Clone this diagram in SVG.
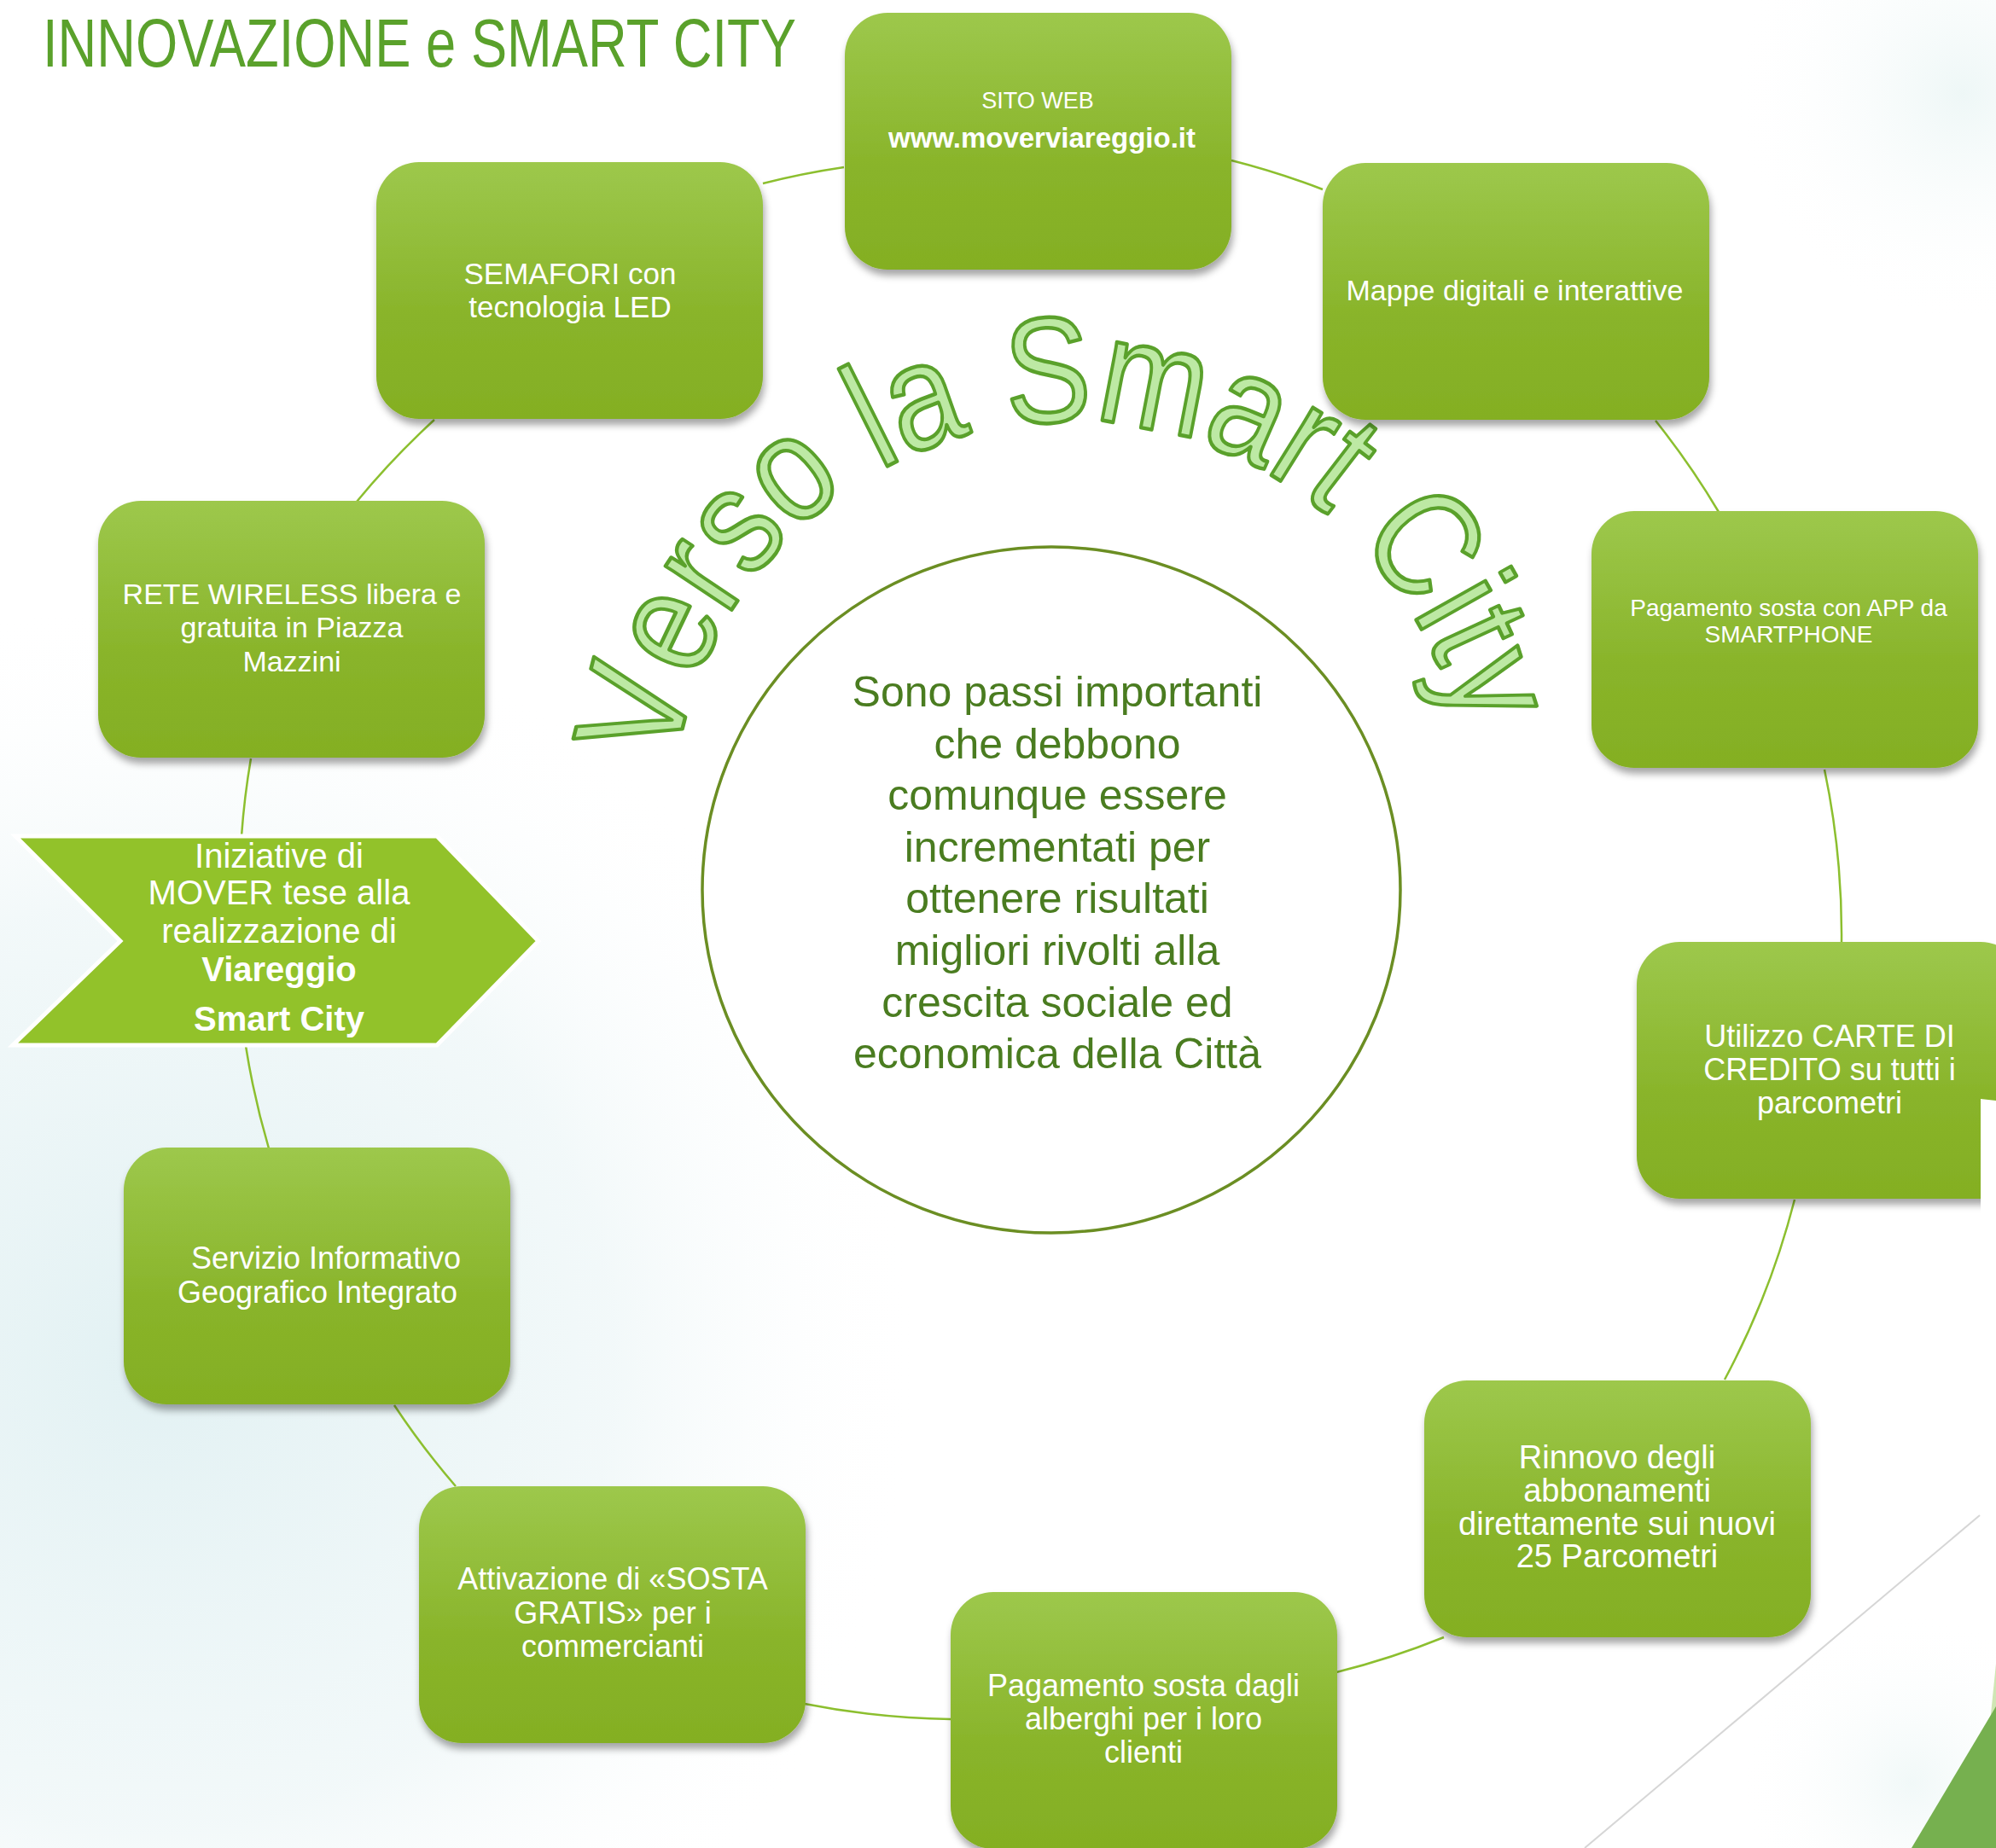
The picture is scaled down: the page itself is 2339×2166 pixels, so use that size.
<svg xmlns="http://www.w3.org/2000/svg" width="2339" height="2166" viewBox="0 0 2339 2166">
<defs>
<linearGradient id="ng" x1="0" y1="0" x2="0" y2="1">
<stop offset="0" stop-color="#9dc84c"/>
<stop offset="0.6" stop-color="#89b42a"/>
<stop offset="1" stop-color="#84af23"/>
</linearGradient>
<radialGradient id="glowL" cx="0.5" cy="0.5" r="0.5">
<stop offset="0" stop-color="#e2f1f3" stop-opacity="1"/>
<stop offset="0.6" stop-color="#eff7f8" stop-opacity="0.8"/>
<stop offset="1" stop-color="#ffffff" stop-opacity="0"/>
</radialGradient>
<radialGradient id="glowT" cx="0.5" cy="0.5" r="0.5">
<stop offset="0" stop-color="#e3f2f1" stop-opacity="1"/>
<stop offset="1" stop-color="#ffffff" stop-opacity="0"/>
</radialGradient>
<filter id="sh" x="-10%" y="-10%" width="125%" height="130%">
<feDropShadow dx="2" dy="7" stdDeviation="4" flood-color="#000" flood-opacity="0.35"/>
</filter>
</defs>
<style>
.nb{fill:url(#ng);filter:url(#sh)}
.nt{font-family:"Liberation Sans",Arial,sans-serif;fill:#ffffff;text-anchor:middle}
.conn{fill:none;stroke:#8cbf2f;stroke-width:2.5}
.arc{font-family:"Liberation Sans",Arial,sans-serif;font-size:176px;fill:#bde9a4;stroke:#5aa12b;stroke-width:4.5;stroke-linejoin:round;paint-order:normal;text-anchor:middle}
.ct{font-family:"Liberation Sans",Arial,sans-serif;font-size:50px;fill:#4a7c20;text-anchor:middle}
</style>
<rect x="0" y="0" width="2339" height="2166" fill="#ffffff"/>
<g id="background">
<circle cx="180" cy="1600" r="900" fill="url(#glowL)"/>
<circle cx="2300" cy="110" r="270" fill="url(#glowT)" opacity="0.6"/>
<circle cx="2240" cy="2090" r="200" fill="url(#glowT)" opacity="0.5"/>
</g>
<text id="title" x="50" y="78" font-family="Liberation Sans, Arial, sans-serif" font-size="80" fill="#5aa12b" textLength="883" lengthAdjust="spacingAndGlyphs">INNOVAZIONE e SMART CITY</text>
<g id="connectors">
<path class="conn" d="M894,215 A940,940 0 0 1 989,196"/>
<path class="conn" d="M1443,188 A940,940 0 0 1 1550,222"/>
<path class="conn" d="M1940,493 A940,940 0 0 1 2014,600"/>
<path class="conn" d="M2138,902 A940,940 0 0 1 2158,1104"/>
<path class="conn" d="M2103,1406 A940,940 0 0 1 2021,1617"/>
<path class="conn" d="M1692,1919 A940,940 0 0 1 1566,1960"/>
<path class="conn" d="M1114,2015 A940,940 0 0 1 943,1997"/>
<path class="conn" d="M534,1742 A940,940 0 0 1 462,1647"/>
<path class="conn" d="M315,1346 A940,940 0 0 1 288,1226"/>
<path class="conn" d="M283,980 A940,940 0 0 1 294,889"/>
<path class="conn" d="M418,588 A940,940 0 0 1 509,492"/>
</g>
<g id="center">
<ellipse cx="1232" cy="1043" rx="409" ry="402" fill="#ffffff" stroke="#6b8e23" stroke-width="3.5"/>
<text class="ct" x="1239" y="828">Sono passi importanti</text>
<text class="ct" x="1239" y="889">che debbono</text>
<text class="ct" x="1239" y="949">comunque essere</text>
<text class="ct" x="1239" y="1010">incrementati per</text>
<text class="ct" x="1239" y="1070">ottenere risultati</text>
<text class="ct" x="1239" y="1131">migliori rivolti alla</text>
<text class="ct" x="1239" y="1192">crescita sociale ed</text>
<text class="ct" x="1239" y="1252">economica della Città</text>
</g>
<g id="arch-title">
<text class="arc" transform="translate(801.2,847.5) rotate(-75.84) scale(0.857,1)">V</text>
<text class="arc" transform="translate(832.4,761.0) rotate(-64.56) scale(0.857,1)">e</text>
<text class="arc" transform="translate(865.5,702.6) rotate(-56.35) scale(0.857,1)">r</text>
<text class="arc" transform="translate(903.6,652.9) rotate(-48.66) scale(0.857,1)">s</text>
<text class="arc" transform="translate(961.1,597.8) rotate(-38.91) scale(0.857,1)">o</text>
<text class="arc" transform="translate(1045.5,543.5) rotate(-26.60) scale(0.857,1)">l</text>
<text class="arc" transform="translate(1099.4,520.6) rotate(-19.42) scale(0.857,1)">a</text>
<text class="arc" transform="translate(1230.5,494.6) rotate(-3.00) scale(0.857,1)">S</text>
<text class="arc" transform="translate(1343.0,502.3) rotate(10.84) scale(0.857,1)">m</text>
<text class="arc" transform="translate(1442.9,533.4) rotate(23.67) scale(0.857,1)">a</text>
<text class="arc" transform="translate(1502.0,564.5) rotate(31.87) scale(0.857,1)">r</text>
<text class="arc" transform="translate(1539.9,590.7) rotate(37.51) scale(0.857,1)">t</text>
<text class="arc" transform="translate(1623.1,673.0) rotate(51.87) scale(0.857,1)">C</text>
<text class="arc" transform="translate(1662.7,732.2) rotate(60.59) scale(0.857,1)">i</text>
<text class="arc" transform="translate(1679.8,765.7) rotate(65.20) scale(0.857,1)">t</text>
<text class="arc" transform="translate(1701.0,820.3) rotate(72.38) scale(0.857,1)">y</text>
</g>
<g id="node-sito">
<rect class="nb" x="990" y="15" width="453" height="301" rx="50"/>
<text class="nt" x="1216" y="127" font-size="27">SITO WEB</text>
<text class="nt" x="1221" y="173" font-size="33" font-weight="bold">www.moverviareggio.it</text>
</g>
<g id="node-semafori">
<rect class="nb" x="441" y="190" width="453" height="301" rx="50"/>
<text class="nt" x="668" y="333" font-size="35">SEMAFORI con</text>
<text class="nt" x="668" y="372" font-size="35">tecnologia LED</text>
</g>
<g id="node-mappe">
<rect class="nb" x="1550" y="191" width="453" height="301" rx="50"/>
<text class="nt" x="1775" y="352" font-size="34">Mappe digitali e interattive</text>
</g>
<g id="node-wireless">
<rect class="nb" x="115" y="587" width="453" height="301" rx="50"/>
<text class="nt" x="342" y="708" font-size="34">RETE WIRELESS libera e</text>
<text class="nt" x="342" y="747" font-size="34">gratuita in Piazza</text>
<text class="nt" x="342" y="787" font-size="34">Mazzini</text>
</g>
<g id="node-app">
<rect class="nb" x="1865" y="599" width="453" height="301" rx="50"/>
<text class="nt" x="2096" y="722" font-size="28">Pagamento sosta con APP da</text>
<text class="nt" x="2096" y="753" font-size="28">SMARTPHONE</text>
</g>
<g id="node-iniziative">
<polygon points="18,980 512,980 631,1103 512,1225 15,1225 141,1103" fill="#92c22a" stroke="#ffffff" stroke-width="5" stroke-linejoin="miter"/>
<text class="nt" x="327" y="1017" font-size="40">Iniziative di</text>
<text class="nt" x="327" y="1060" font-size="40">MOVER tese alla</text>
<text class="nt" x="327" y="1105" font-size="40">realizzazione di</text>
<text class="nt" x="327" y="1150" font-size="40" font-weight="bold">Viareggio</text>
<text class="nt" x="327" y="1208" font-size="40" font-weight="bold">Smart City</text>
</g>
<g id="node-carte">
<rect class="nb" x="1918" y="1104" width="453" height="301" rx="50"/>
<polygon points="2321,1288 2339,1290 2339,1425 2321,1425" fill="#ffffff"/>
<text class="nt" x="2144" y="1227" font-size="36">Utilizzo CARTE DI</text>
<text class="nt" x="2144" y="1266" font-size="36">CREDITO su tutti i</text>
<text class="nt" x="2144" y="1305" font-size="36">parcometri</text>
</g>
<g id="node-servizio">
<rect class="nb" x="145" y="1345" width="453" height="301" rx="50"/>
<text class="nt" x="382" y="1487" font-size="36">Servizio Informativo</text>
<text class="nt" x="372" y="1527" font-size="36">Geografico Integrato</text>
</g>
<g id="node-rinnovo">
<rect class="nb" x="1669" y="1618" width="453" height="301" rx="50"/>
<text class="nt" x="1895" y="1721" font-size="38">Rinnovo degli</text>
<text class="nt" x="1895" y="1760" font-size="38">abbonamenti</text>
<text class="nt" x="1895" y="1799" font-size="38">direttamente sui nuovi</text>
<text class="nt" x="1895" y="1837" font-size="38">25 Parcometri</text>
</g>
<g id="node-attivazione">
<rect class="nb" x="491" y="1742" width="453" height="301" rx="50"/>
<text class="nt" x="718" y="1863" font-size="36">Attivazione di «SOSTA</text>
<text class="nt" x="718" y="1903" font-size="36">GRATIS» per i</text>
<text class="nt" x="718" y="1942" font-size="36">commercianti</text>
</g>
<g id="node-alberghi">
<rect class="nb" x="1114" y="1866" width="453" height="301" rx="50"/>
<text class="nt" x="1340" y="1988" font-size="36">Pagamento sosta dagli</text>
<text class="nt" x="1340" y="2027" font-size="36">alberghi per i loro</text>
<text class="nt" x="1340" y="2066" font-size="36">clienti</text>
</g>
<g id="decoration">
<line x1="2320" y1="1776" x2="1857" y2="2166" stroke="#d6d6d6" stroke-width="2"/>
<polygon points="2339,1950 2317,2166 2339,2166" fill="#cfe6b4"/>
<polygon points="2339,2000 2240,2166 2339,2166" fill="#76b04f"/>
</g>
</svg>
